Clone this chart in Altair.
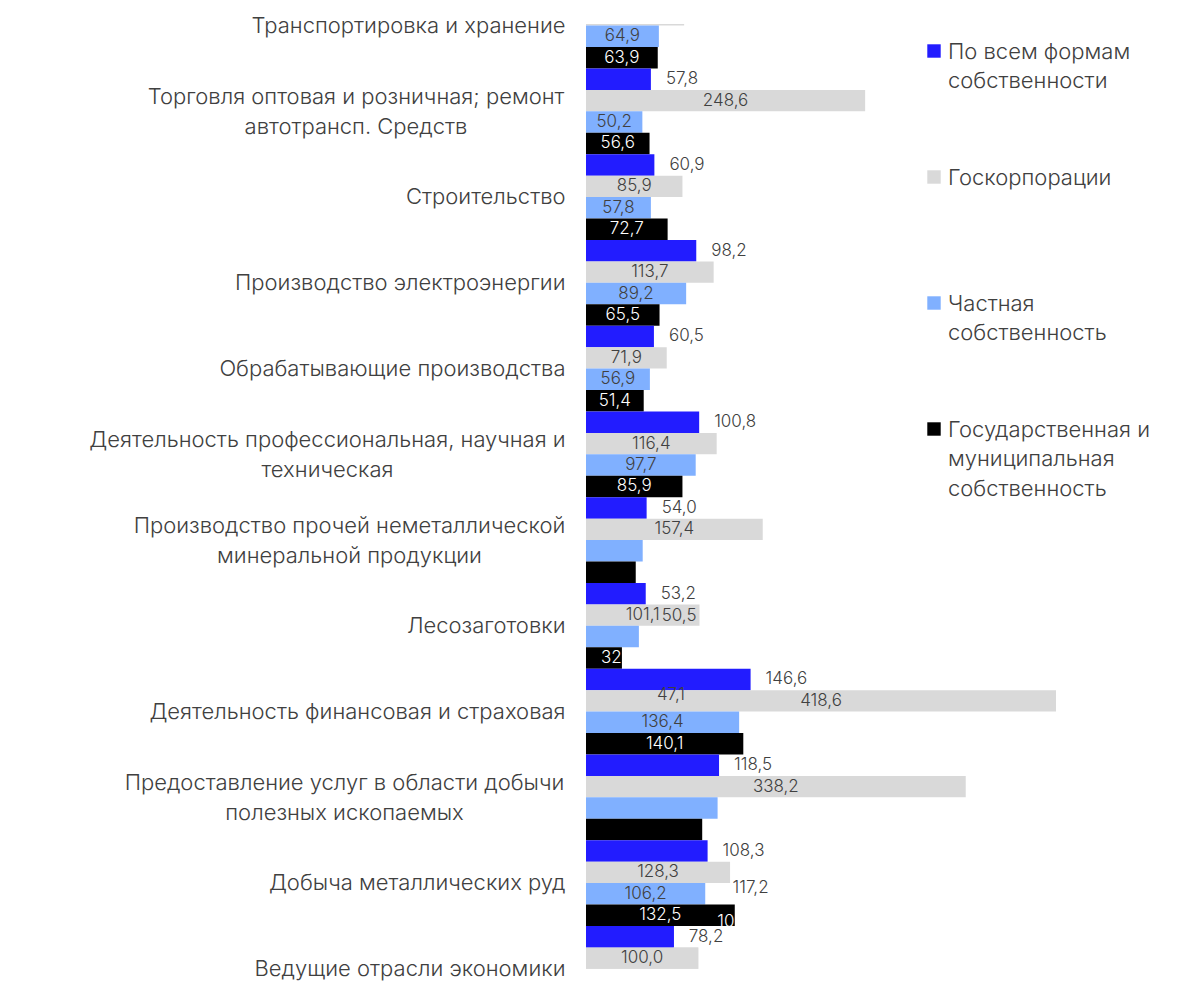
import altair as alt
import pandas as pd

# ---------------- data ----------------
categories = [
    "Транспортировка и хранение",
    "Торговля оптовая и розничная; ремонт\nавтотрансп. Средств",
    "Строительство",
    "Производство электроэнергии",
    "Обрабатывающие производства",
    "Деятельность профессиональная, научная и\nтехническая",
    "Производство прочей неметаллической\nминеральной продукции",
    "Лесозаготовки",
    "Деятельность финансовая и страховая",
    "Предоставление услуг в области добычи\nполезных ископаемых",
    "Добыча металлических руд",
    "Ведущие отрасли экономики",
]

series = [
    "По всем формам собственности",
    "Госкорпорации",
    "Частная собственность",
    "Государственная и муниципальная собственность",
]
legend_labels = [
    "По всем формам\nсобственности",
    "Госкорпорации",
    "Частная\nсобственность",
    "Государственная и\nмуниципальная\nсобственность",
]
colors = ["#221cff", "#d9d9d9", "#80b0ff", "#000000"]

all_forms = [None, 57.8, 60.9, 98.2, 60.5, 100.8, 54.0, 53.2, 146.6, 118.5, 108.3, 78.2]
goskorp = [87.4, 248.6, 85.9, 113.7, 71.9, 116.4, 157.4, 101.1, 418.6, 338.2, 128.3, 100.0]
private = [64.9, 50.2, 57.8, 89.2, 56.9, 97.7, 50.5, 47.1, 136.4, 117.2, 106.2, None]
state = [63.9, 56.6, 72.7, 65.5, 51.4, 85.9, 44.3, 32.0, 140.1, 103.5, 132.5, None]

# bars whose own data label is not drawn in place
hidden = [
    (categories[0], series[1]),
    (categories[6], series[2]), (categories[6], series[3]),
    (categories[7], series[2]), (categories[7], series[3]),
    (categories[9], series[2]), (categories[9], series[3]),
]

# labels that appear displaced into other rows
stray_text = ["50,5", "47,1", "117,2", "103,5", "32"]
stray_anchor = [50.5, 47.1, 117.2, 103.5, 0.0]
stray_cat = [categories[7], categories[8], categories[10], categories[10], categories[7]]
stray_series = [series[1], series[1], series[2], series[3], series[3]]


def fmt(v):
    return f"{v:.1f}".replace(".", ",")


rows = []
for i, c in enumerate(categories):
    for s, vals in zip(series, [all_forms, goskorp, private, state]):
        v = vals[i]
        if v is None:
            continue
        rows.append({"category": c, "series": s, "value": v, "label": fmt(v),
                     "show": (c, s) not in hidden})
df = pd.DataFrame(rows)

stray_df = pd.DataFrame({"category": stray_cat, "series": stray_series,
                         "anchor": stray_anchor, "text": stray_text})
leg_df = pd.DataFrame({"series": series, "text": legend_labels})

# ---------------- layout ----------------
FONT = "Inter"
TXT = "#404040"
PX = 1.1228
W = 589
XMAX = W / PX
H = 945

x_scale = alt.Scale(domain=[0, XMAX], nice=False, zero=True)
y_scale = alt.Scale(domain=categories, range=[-41.3, 987.7], paddingInner=0, paddingOuter=0)
off_scale = alt.Scale(domain=series, paddingInner=0, paddingOuter=0)
color_scale = alt.Scale(domain=series, range=colors)

# two-line category labels: lines centred under each other, block flush right
LABEL_PAD = 21
block_half = {"Торговля": 209.5, "Деятельность профессиональная": 238,
              "Производство прочей": 216, "Предоставление": 221}
pad_cond = [{"test": f"indexof(datum.value, '{k}') == 0", "value": LABEL_PAD + v}
            for k, v in block_half.items()]

y_axis = alt.Axis(
    title=None, domain=False, ticks=False, grid=False,
    labelPadding={"condition": pad_cond, "value": LABEL_PAD},
    labelAlign={"condition": {"test": "indexof(datum.value, '\\n') >= 0", "value": "center"},
                "value": "right"},
    labelFont=FONT, labelFontSize=22, labelFontWeight=300,
    labelColor=TXT, labelLimit=700, labelLineHeight=29.5,
    labelOffset={"condition": {"test": "indexof(datum.value, '\\n') >= 0", "value": -14},
                 "value": 0},
    labelExpr="split(datum.label, '\\n')",
)


def yenc(data_chart):
    return data_chart.encode(
        y=alt.Y("category:N", scale=y_scale, axis=y_axis),
        yOffset=alt.YOffset("series:N", scale=off_scale),
    )


bars = yenc(alt.Chart(df)).mark_bar(clip=True).encode(
    x=alt.X("value:Q", scale=x_scale, axis=None),
    color=alt.Color("series:N", scale=color_scale, legend=None),
)

cover = yenc(alt.Chart(df)).transform_filter(
    alt.datum.category == categories[-1]
).mark_bar(clip=True).encode(
    x=alt.X("value:Q", scale=x_scale, axis=None),
    color=alt.Color("series:N", scale=color_scale, legend=None),
)

lab_kw = dict(font=FONT, fontSize=17, fontWeight=300, baseline="middle", clip=True)

lab_out = yenc(alt.Chart(df)).transform_filter(
    (alt.datum.series == series[0]) & alt.datum.show
).mark_text(align="left", dx=15, color=TXT, **lab_kw).encode(
    x=alt.X("value:Q", scale=x_scale, axis=None), text="label:N")

lab_mid = yenc(alt.Chart(df)).transform_filter(
    ((alt.datum.series == series[1]) | (alt.datum.series == series[2])) & alt.datum.show
).transform_calculate(mid="datum.value / 2").mark_text(
    align="center", color=TXT, **lab_kw).encode(
    x=alt.X("mid:Q", scale=x_scale, axis=None), text="label:N")

lab_white = yenc(alt.Chart(df)).transform_filter(
    (alt.datum.series == series[3]) & alt.datum.show
).transform_calculate(mid="datum.value / 2").mark_text(
    align="center", color="white", **lab_kw).encode(
    x=alt.X("mid:Q", scale=x_scale, axis=None), text="label:N")

stray_style = {
    "50,5": dict(color=TXT, dy=1, dx=19),
    "47,1": dict(color=TXT, dy=-6, dx=18),
    "117,2": dict(color=TXT, dy=-6, dx=15),
    "103,5": dict(color="white", dy=7, dx=15),
    "32": dict(color="white", dy=0, dx=15),
}
strays = []
for t in stray_text:
    strays.append(
        yenc(alt.Chart(stray_df)).transform_filter(alt.datum.text == t).mark_text(
            align="left", **stray_style[t], **lab_kw).encode(
            x=alt.X("anchor:Q", scale=x_scale, axis=None), text="text:N")
    )

main = alt.layer(bars, *strays, cover, lab_out, lab_mid, lab_white)

leg_y = alt.Y("series:N", scale=alt.Scale(type="point", domain=series, range=[27, 405], padding=0),
              axis=None)
leg_sq = alt.Chart(leg_df).mark_square(size=180, opacity=1).encode(
    x=alt.value(348), y=leg_y,
    color=alt.Color("series:N", scale=color_scale, legend=None))
leg_tx = alt.Chart(leg_df).mark_text(
    align="left", baseline="alphabetic", dy=7.5, lineBreak="\n", lineHeight=29.5,
    font=FONT, fontSize=22, fontWeight=300, color=TXT).encode(
    x=alt.value(362), y=leg_y, text="text:N")
legend = alt.layer(leg_sq, leg_tx)

chart = alt.layer(main, legend).resolve_scale(y="independent").properties(
    width=W, height=H,
    autosize=alt.AutoSizeParams(type="none"),
    padding={"left": 578, "top": 16, "right": 0, "bottom": 14},
).configure(background="white").configure_view(stroke=None, strokeWidth=0)

chart.save("out.html", embed_options={"renderer": "svg", "actions": False})
